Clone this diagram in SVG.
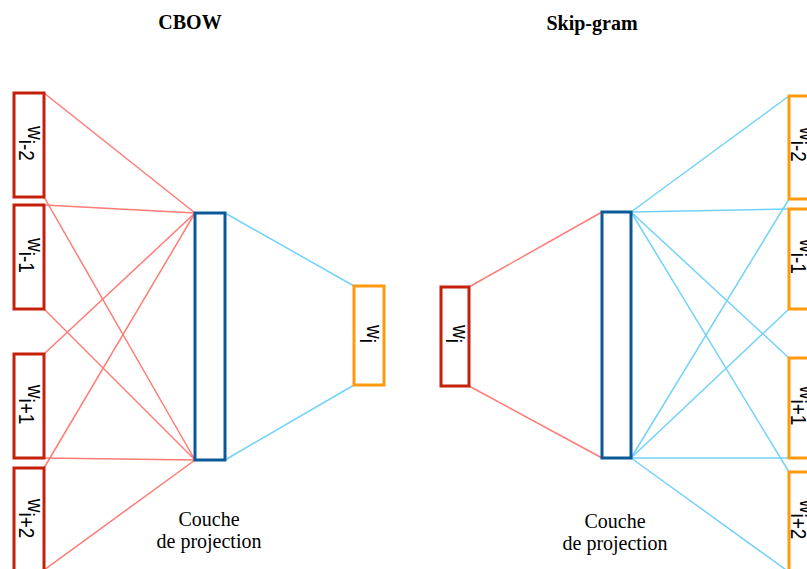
<svg xmlns="http://www.w3.org/2000/svg" width="807" height="569" viewBox="0 0 807 569">
<style>
.in{fill:#fff;stroke:#c4200a;stroke-width:3}
.out{fill:#fff;stroke:#ff9a0e;stroke-width:3}
.proj{fill:#fff;stroke:#0b5a97;stroke-width:3}
.rl{stroke:#ff7b76;stroke-width:1.5;fill:none}
.bl{stroke:#72d2fb;stroke-width:1.5;fill:none}
.lbl{font-family:"Liberation Sans",Arial,sans-serif;font-size:19px;fill:#000}
.title{font-family:"Liberation Serif","Times New Roman",serif;font-size:20px;font-weight:bold;fill:#000}
.cap{font-family:"Liberation Serif","Times New Roman",serif;font-size:20px;fill:#000}
</style>
<rect width="807" height="569" fill="#fff"/>
<g id="connectors">
<line class="rl" x1="44" y1="93" x2="195" y2="213"/>
<line class="rl" x1="44" y1="197" x2="195" y2="460"/>
<line class="rl" x1="44" y1="205" x2="195" y2="213"/>
<line class="rl" x1="44" y1="309" x2="195" y2="460"/>
<line class="rl" x1="44" y1="354" x2="195" y2="213"/>
<line class="rl" x1="44" y1="458" x2="195" y2="460"/>
<line class="rl" x1="44" y1="468" x2="195" y2="213"/>
<line class="rl" x1="44" y1="570" x2="195" y2="460"/>
<line class="bl" x1="225" y1="213" x2="354" y2="286"/>
<line class="bl" x1="225" y1="460" x2="354" y2="385"/>
<line class="rl" x1="469" y1="287" x2="602" y2="212"/>
<line class="rl" x1="469" y1="386" x2="602" y2="458"/>
<line class="bl" x1="631" y1="212" x2="789" y2="96"/>
<line class="bl" x1="631" y1="212" x2="789" y2="209"/>
<line class="bl" x1="631" y1="212" x2="789" y2="358"/>
<line class="bl" x1="631" y1="212" x2="789" y2="472"/>
<line class="bl" x1="631" y1="458" x2="789" y2="199"/>
<line class="bl" x1="631" y1="458" x2="789" y2="309"/>
<line class="bl" x1="631" y1="458" x2="789" y2="458"/>
<line class="bl" x1="631" y1="458" x2="789" y2="572"/>
</g>
<text class="title" x="190" y="29" text-anchor="middle">CBOW</text>
<text class="title" x="592" y="30" text-anchor="middle">Skip-gram</text>
<g id="cbow-in-im2"><rect class="in" x="14" y="93" width="30" height="104"/>
<text class="lbl" transform="translate(29,143.5) scale(1.2,1) rotate(90)" text-anchor="middle" y="1">w<tspan dy="7">i-2</tspan></text></g>
<g id="cbow-in-im1"><rect class="in" x="14" y="205" width="30" height="104"/>
<text class="lbl" transform="translate(29,255.5) scale(1.2,1) rotate(90)" text-anchor="middle" y="1">w<tspan dy="7">i-1</tspan></text></g>
<g id="cbow-in-ip1"><rect class="in" x="14" y="354" width="30" height="104"/>
<text class="lbl" transform="translate(29,404.5) scale(1.2,1) rotate(90)" text-anchor="middle" y="1">w<tspan dy="7">i+1</tspan></text></g>
<g id="cbow-in-ip2"><rect class="in" x="14" y="468" width="30" height="104"/>
<text class="lbl" transform="translate(29,518.5) scale(1.2,1) rotate(90)" text-anchor="middle" y="1">w<tspan dy="7">i+2</tspan></text></g>
<g id="cbow-proj"><rect class="proj" x="195" y="213" width="30" height="247"/></g>
<g id="cbow-out"><rect class="out" x="354" y="286" width="30" height="99"/>
<text class="lbl" transform="translate(369,334) scale(1.2,1) rotate(90)" text-anchor="middle" y="2">w<tspan dy="5.5">i</tspan></text></g>
<text class="cap" x="209" y="526" text-anchor="middle">Couche</text>
<text class="cap" x="209" y="548" text-anchor="middle">de projection</text>
<g id="sg-in"><rect class="in" x="441" y="287" width="28" height="99"/>
<text class="lbl" transform="translate(455,334) scale(1.2,1) rotate(90)" text-anchor="middle" y="2">w<tspan dy="5.5">i</tspan></text></g>
<g id="sg-proj"><rect class="proj" x="602" y="212" width="29" height="246"/></g>
<g id="sg-out-im2"><rect class="out" x="789" y="96" width="30" height="103"/>
<text class="lbl" transform="translate(801,144.5) scale(1.2,1) rotate(90)" text-anchor="middle" y="1">w<tspan dy="7">i-2</tspan></text></g>
<g id="sg-out-im1"><rect class="out" x="789" y="209" width="30" height="100"/>
<text class="lbl" transform="translate(801,256.5) scale(1.2,1) rotate(90)" text-anchor="middle" y="1">w<tspan dy="7">i-1</tspan></text></g>
<g id="sg-out-ip1"><rect class="out" x="789" y="358" width="30" height="100"/>
<text class="lbl" transform="translate(801,405.5) scale(1.2,1) rotate(90)" text-anchor="middle" y="1">w<tspan dy="7">i+1</tspan></text></g>
<g id="sg-out-ip2"><rect class="out" x="789" y="472" width="30" height="103"/>
<text class="lbl" transform="translate(801,519.5) scale(1.2,1) rotate(90)" text-anchor="middle" y="1">w<tspan dy="7">i+2</tspan></text></g>
<text class="cap" x="615" y="528" text-anchor="middle">Couche</text>
<text class="cap" x="615" y="550" text-anchor="middle">de projection</text>
</svg>
